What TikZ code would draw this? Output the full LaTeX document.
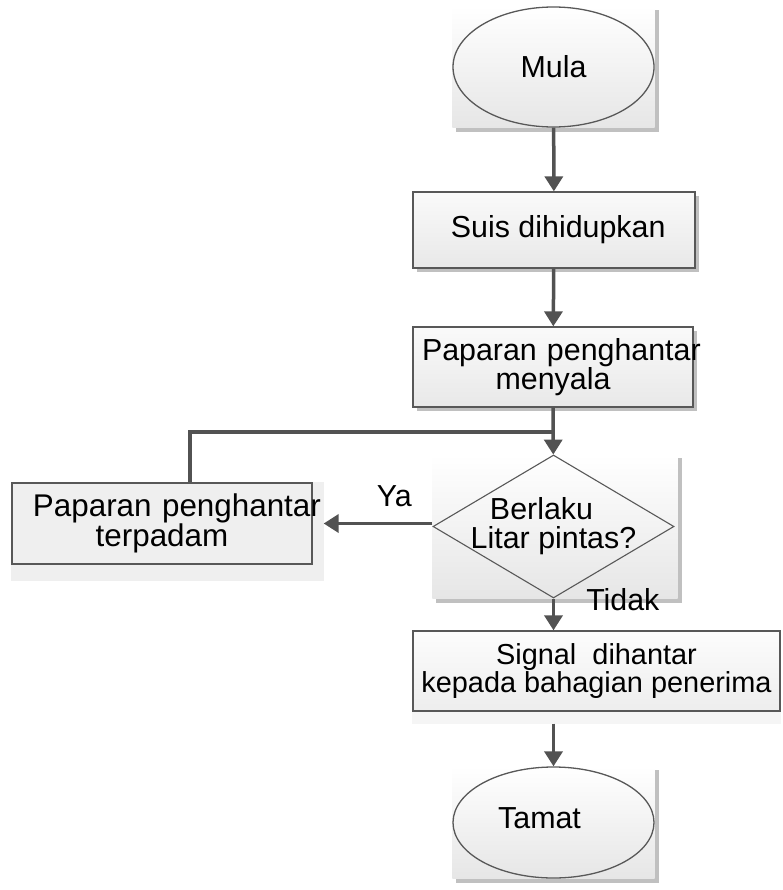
\documentclass[tikz,border=0pt]{standalone}
\usepackage{fontspec}
\setmainfont{Liberation Sans}
\usetikzlibrary{shapes.geometric, arrows.meta, positioning, shadows, backgrounds}

\definecolor{edgegray}{RGB}{88,88,88}
\definecolor{linegray}{RGB}{82,82,82}
\definecolor{panelgray}{RGB}{230,230,230}
\definecolor{shadegray}{RGB}{192,192,192}
\definecolor{flatgray}{RGB}{239,239,239}

\begin{document}
\begin{tikzpicture}[x=1bp, y=-1bp,
  font=\fontsize{30.5}{29}\selectfont,
  boxbase/.style={rectangle, draw=edgegray, line width=1.3bp, inner xsep=9bp, align=center},
  pbox/.style={boxbase, top color=black!2, bottom color=black!9,
    drop shadow={shadow xshift=4bp, shadow yshift=-4bp, fill=shadegray, opacity=1}},
  term/.style={ellipse, draw=edgegray, line width=1.3bp, inner sep=0pt},
  decide/.style={diamond, draw=edgegray, line width=1.1bp, shape aspect=1.69,
    inner xsep=-14bp, inner ysep=0pt, align=center},
  panel/.style={top color=white, bottom color=panelgray,
    drop shadow={shadow xshift=4bp, shadow yshift=-4bp, fill=shadegray, opacity=1}},
  wire/.style={draw=linegray, line width=3.5bp},
  flow/.style={wire, -{Triangle[width=18bp,length=15bp]}},
  lbl/.style={inner sep=0pt}
]
  \useasboundingbox (0,0) rectangle (783,890);

  % start / end
  \node[term, minimum width=201bp, minimum height=120bp] (mula) at (553.5,67) {Mula};
  \node[term, minimum width=201bp, minimum height=111bp] (tamat) at (553.5,822.5)
    {\raisebox{9bp}{Tamat}\hspace*{28bp}};

  % process steps
  \node[pbox, minimum width=282bp, minimum height=76bp] (suis) at (554,230) {\ Suis dihidupkan};
  \node[pbox, minimum width=280bp, minimum height=80bp, text width=262bp] (menyala) at (553,367)
    {\mbox{Paparan penghantar}\\menyala\hspace*{20bp}};
  \node[boxbase, fill=flatgray, minimum width=300bp, minimum height=81bp, text width=282bp,
    font=\fontsize{31.5}{29}\selectfont] (terpadam) at (162,523.5)
    {\hspace*{12bp}\mbox{Paparan penghantar}\\terpadam};
  \node[boxbase, top color=black!1, bottom color=black!7, minimum width=367bp, minimum height=80bp,
    inner xsep=4bp, font=\fontsize{29}{29}\selectfont]
    (signal) at (596.5,671) {Signal\ \ dihantar\\kepada bahagian penerima};

  % decision
  \node[decide, minimum width=241bp, minimum height=143bp] (dec) at (553.5,526.5)
    {Berlaku\hspace*{24bp}\\Litar pintas?};

  \begin{scope}[on background layer]
    \path[panel] (mula.west |- mula.north) rectangle (mula.east |- mula.south);
    \path[panel] (tamat.west |- tamat.north) rectangle (tamat.east |- tamat.south);
    \path[panel] (dec.west |- dec.north) rectangle ([xshift=3bp]dec.east |- dec.south);
    \fill[flatgray] (terpadam.north west) rectangle ([xshift=11bp,yshift=-16bp]terpadam.south east);
    \fill[black!4] (signal.south west) rectangle ([yshift=-12bp]signal.south east);
  \end{scope}

  \coordinate (merge) at (553,432);
  \coordinate (yaend) at ([xshift=11bp]terpadam.east);
  \coordinate (sigfoot) at ([yshift=-12bp]signal.south -| tamat.north);

  % connectors
  \draw[flow] (mula) -- (suis);
  \draw[flow] (suis) -- (menyala);
  \draw[flow] (menyala) -- (dec);
  \draw[wire] ([xshift=28bp]terpadam.north) |- (merge);
  \draw[flow] (yaend -| dec.west) -- node[lbl, pos=0.35, above=15bp] {Ya} (yaend);
  \draw[flow] (dec.south) -- node[lbl, pos=0.45, anchor=south west, xshift=31bp] {Tidak}
    (dec.south |- signal.north);
  \draw[flow] (sigfoot) -- (tamat);
\end{tikzpicture}
\end{document}
